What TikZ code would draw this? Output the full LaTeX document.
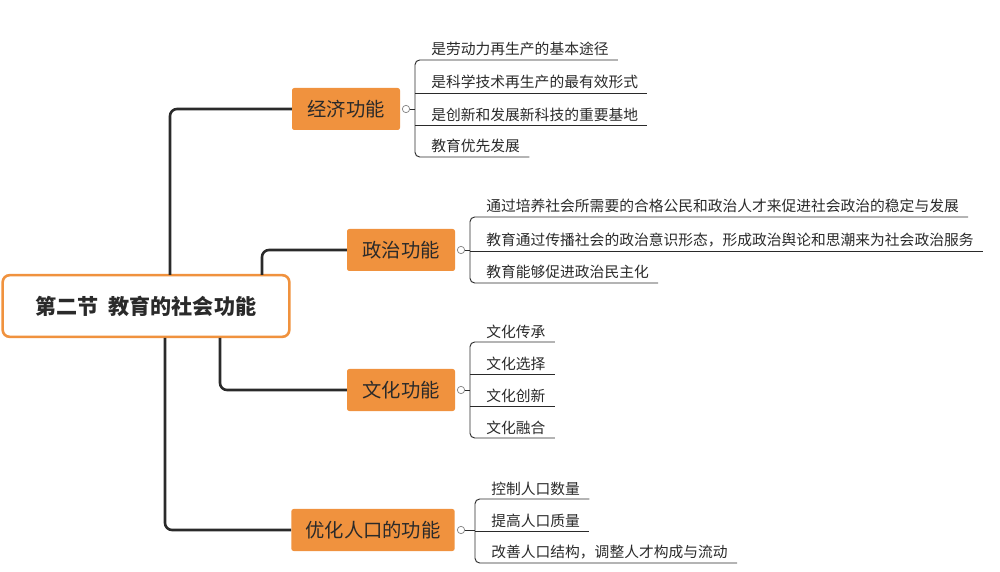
\documentclass[tikz,border=0pt]{standalone}
\usepackage{fontspec}
\setmainfont{Noto Sans CJK SC}
\usetikzlibrary{positioning}
\definecolor{orng}{HTML}{F0923E}
\definecolor{ink}{HTML}{2A2A2A}
\tikzset{
  rootbox/.style={draw=orng,line width=2.2pt,fill=white,rounded corners=6pt,minimum width=8.6cm,minimum height=1.85cm,font=\fontsize{18}{21}\selectfont\bfseries,text=ink},
  branch/.style={fill=orng,rounded corners=2pt,minimum height=1.26cm,font=\fontsize{16.5}{19}\selectfont,text=ink},
  knob/.style={circle,draw=gray,fill=white,inner sep=0pt,minimum size=0.22cm,line width=0.6pt},
  leaf/.style={anchor=south west,inner xsep=1pt,inner ysep=3pt,font=\fontsize{12.6}{14}\selectfont,text=ink},
  trunk/.style={line width=2.2pt,draw=ink,rounded corners=6pt},
  twig/.style={line width=0.8pt,draw=ink,rounded corners=4pt}
}
\begin{document}
\begin{tikzpicture}[x=0.03cm,y=-0.03cm]
  \useasboundingbox (0,0) rectangle (1000,572);
  % root and branches
  \node[rootbox] (root) at (146,306) {第二节\ \ 教育的社会功能};
  \node[branch,minimum width=3.24cm] (econ) at (346,109) {经济功能};
  \node[branch,minimum width=3.24cm] (poli) at (401,250) {政治功能};
  \node[branch,minimum width=3.24cm] (cult) at (401,390) {文化功能};
  \node[branch,minimum width=4.9cm] (popu) at (373,530) {优化人口的功能};
  \draw[trunk] (170,275) |- (econ.west);
  \draw[trunk] (262,275) |- (poli.west);
  \draw[trunk] (220,338) |- (cult.west);
  \draw[trunk] (165,338) |- (popu.west);
  \node[knob] (k1) at (406,109) {};
  \node[knob] (k2) at (461,250) {};
  \node[knob] (k3) at (461,390) {};
  \node[knob] (k4) at (461,530) {};
  % economic
  \node[leaf] (e1) at (430,60) {是劳动力再生产的基本途径};
  \node[leaf] (e2) at (430,93) {是科学技术再生产的最有效形式};
  \node[leaf] (e3) at (430,125) {是创新和发展新科技的重要基地};
  \node[leaf] (e4) at (430,157) {教育优先发展};
  \draw[twig] (k1) -- (415,109);
  \draw[twig] ([xshift=8*0.03cm]e1.south east) -- (415,60) -- (415,157) -- ([xshift=8*0.03cm]e4.south east);
  \foreach \n in {e2,e3} \draw[twig] (415,0 |- \n.south) -- ([xshift=8*0.03cm]\n.south east);
  % political
  \node[leaf] (p1) at (485,217) {通过培养社会所需要的合格公民和政治人才来促进社会政治的稳定与发展};
  \node[leaf] (p2) at (485,251) {教育通过传播社会的政治意识形态，形成政治舆论和思潮来为社会政治服务};
  \node[leaf] (p3) at (485,283) {教育能够促进政治民主化};
  \draw[twig] (k2) -- (470,250);
  \draw[twig] ([xshift=8*0.03cm]p1.south east) -- (470,217) -- (470,283) -- ([xshift=8*0.03cm]p3.south east);
  \draw[twig] (470,0 |- p2.south) -- ([xshift=8*0.03cm]p2.south east);
  % cultural
  \node[leaf] (c1) at (485,342) {文化传承};
  \node[leaf] (c2) at (485,374) {文化选择};
  \node[leaf] (c3) at (485,406) {文化创新};
  \node[leaf] (c4) at (485,438) {文化融合};
  \draw[twig] (k3) -- (470,390);
  \draw[twig] ([xshift=8*0.03cm]c1.south east) -- (470,342) -- (470,438) -- ([xshift=8*0.03cm]c4.south east);
  \foreach \n in {c2,c3} \draw[twig] (470,0 |- \n.south) -- ([xshift=8*0.03cm]\n.south east);
  % population
  \node[leaf] (u1) at (490,499) {控制人口数量};
  \node[leaf] (u2) at (490,531) {提高人口质量};
  \node[leaf] (u3) at (490,563) {改善人口结构，调整人才构成与流动};
  \draw[twig] (k4) -- (475,530);
  \draw[twig] ([xshift=8*0.03cm]u1.south east) -- (475,499) -- (475,563) -- ([xshift=8*0.03cm]u3.south east);
  \draw[twig] (475,0 |- u2.south) -- ([xshift=8*0.03cm]u2.south east);
\end{tikzpicture}
\end{document}
